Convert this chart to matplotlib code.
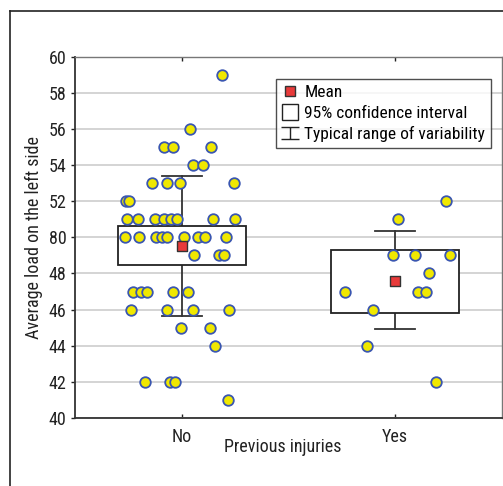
import matplotlib
matplotlib.use('Agg')
import matplotlib.pyplot as plt
from matplotlib.lines import Line2D
from matplotlib.path import Path
from matplotlib.patches import Rectangle
from matplotlib import font_manager
import numpy as np

# look for a condensed face; fall back to a plain sans
names = {f.name for f in font_manager.fontManager.ttflist}
condensed = [n for n in ['Liberation Sans Narrow', 'DejaVu Sans Condensed', 'Roboto Condensed',
                         'Open Sans Condensed'] if n in names]
plt.rcParams['font.family'] = condensed[:1] + ['DejaVu Sans']
if not condensed:
    plt.rcParams['font.stretch'] = 'condensed'

# groups
groups = ['No', 'Yes']

# individual values, with horizontal jitter offsets
no_values = [59, 56, 55, 55, 55, 54, 54, 53, 53, 53, 53, 52, 52,
             51, 51, 51, 51, 51, 51, 51, 51,
             50, 50, 50, 50, 50, 50, 50, 50, 50,
             49, 49, 49, 47, 47, 47, 47, 47, 46, 46, 46, 46,
             45, 45, 44, 42, 42, 42, 41]
no_jitter = [0.19, 0.04, -0.084, -0.042, 0.136, 0.051, 0.098, -0.14, -0.07, -0.009, 0.243, -0.262, -0.248,
             -0.254, -0.207, -0.126, -0.083, -0.048, -0.023, 0.145, 0.248,
             -0.266, -0.201, -0.121, -0.093, -0.07, 0.009, 0.075, 0.107, 0.206,
             0.056, 0.173, 0.196, -0.229, -0.192, -0.164, -0.042, 0.028, -0.238, -0.07, 0.051, 0.22,
             -0.005, 0.131, 0.154, -0.173, -0.056, -0.033, 0.215]

yes_values = [52, 51, 49, 49, 49, 48, 47, 47, 47, 46, 44, 42]
yes_jitter = [0.238, 0.014, -0.009, 0.093, 0.257, 0.159, -0.234, 0.107, 0.145, -0.103, -0.131, 0.192]

# summary statistics
means = [49.5, 47.57]
ci_low = [48.47, 45.83]
ci_high = [50.63, 49.31]
range_low = [45.66, 44.95]
range_high = [53.4, 50.36]

yticks = [40, 42, 44, 46, 48, 50, 52, 54, 56, 58, 60]
ytick_labels = ['40', '42', '44', '46', '48', '80', '52', '54', '56', '58', '60']

fs = 13 if condensed else 11
leg_fs = 12.5 if condensed else 10.5

fig = plt.figure(figsize=(5.03, 4.86), dpi=100)
ax = fig.add_axes([0.149, 0.14, 0.849, 0.7433])

ax.set_xlim(-0.5, 1.5)
ax.set_ylim(40, 60)
ax.set_yticks(yticks)
ax.set_yticklabels(ytick_labels)
ax.set_xticks([0, 1])
ax.set_xticklabels(groups)
ax.yaxis.grid(True, color='#d4d4d4', linewidth=1.4)
ax.set_axisbelow(True)

ax.tick_params(axis='y', direction='out', length=3, width=1, pad=3, labelsize=fs, colors='#222222')
ax.tick_params(axis='x', direction='in', length=3, width=1, pad=7, labelsize=fs,
               top=True, colors='#222222')

for side in ['left', 'bottom']:
    ax.spines[side].set_color('#333333')
    ax.spines[side].set_linewidth(1.3)
for side in ['top', 'right']:
    ax.spines[side].set_color('#777777')
    ax.spines[side].set_linewidth(1.0)

box_half = 0.30
cap_half = 0.093
for i in range(len(groups)):
    # whiskers (typical range)
    ax.plot([i, i], [range_low[i], range_high[i]], color='#333333', lw=1.3, zorder=2)
    ax.plot([i - cap_half, i + cap_half], [range_low[i]] * 2, color='#333333', lw=1.3, zorder=2)
    ax.plot([i - cap_half, i + cap_half], [range_high[i]] * 2, color='#333333', lw=1.3, zorder=2)
    # confidence interval box
    ax.add_patch(Rectangle((i - box_half, ci_low[i]), 2 * box_half, ci_high[i] - ci_low[i],
                           facecolor='white', edgecolor='#222222', lw=1.3, zorder=3))

pt_style = dict(s=58, c='#f0e800', edgecolors='#3a56b0', linewidths=1.3, zorder=4)
ax.scatter(np.array(no_jitter) + 0, no_values, **pt_style)
ax.scatter(np.array(yes_jitter) + 1, yes_values, **pt_style)

ax.scatter([0, 1], means, marker='s', s=55, c='#e83a3a', edgecolors='#333333', linewidths=1.0, zorder=5)

# legend
range_marker = Path([(-1.3, 0.8), (1.3, 0.8), (0, 0.8), (0, -0.8), (-1.3, -0.8), (1.3, -0.8)],
                    [Path.MOVETO, Path.LINETO, Path.MOVETO, Path.LINETO, Path.MOVETO, Path.LINETO])
handles = [
    Line2D([], [], ls='none', marker='s', markersize=7.5, markerfacecolor='#e83a3a',
           markeredgecolor='#333333', markeredgewidth=1.0),
    Line2D([], [], ls='none', marker='s', markersize=11.5, markerfacecolor='white',
           markeredgecolor='#222222', markeredgewidth=1.0),
    Line2D([], [], ls='none', marker=range_marker, markersize=13, markeredgecolor='#222222',
           markeredgewidth=1.0),
]
labels = ['Mean', '95% confidence interval', 'Typical range of variability']
leg = ax.legend(handles, labels, loc='upper left', bbox_to_anchor=(0.471, 0.938),
                borderaxespad=0, frameon=True, fancybox=False, fontsize=leg_fs,
                handlelength=1.0, handletextpad=0.3, labelspacing=0.32,
                borderpad=0.33)
leg.get_frame().set_edgecolor('#222222')
leg.get_frame().set_linewidth(1.0)

ax.set_ylabel('Average load on the left side', fontsize=fs, color='#222222', labelpad=4)
fig.text(283 / 503, 1 - 447 / 486, 'Previous injuries', ha='center', va='center',
         fontsize=fs, color='#222222')

# outer frame lines
fig.add_artist(Line2D([10 / 503, 1.0], [1 - 11 / 486] * 2, color='#222222', lw=1.2))
fig.add_artist(Line2D([10 / 503] * 2, [0.0, 1 - 11 / 486], color='#222222', lw=1.2))

fig.savefig('out.png', dpi=100)
